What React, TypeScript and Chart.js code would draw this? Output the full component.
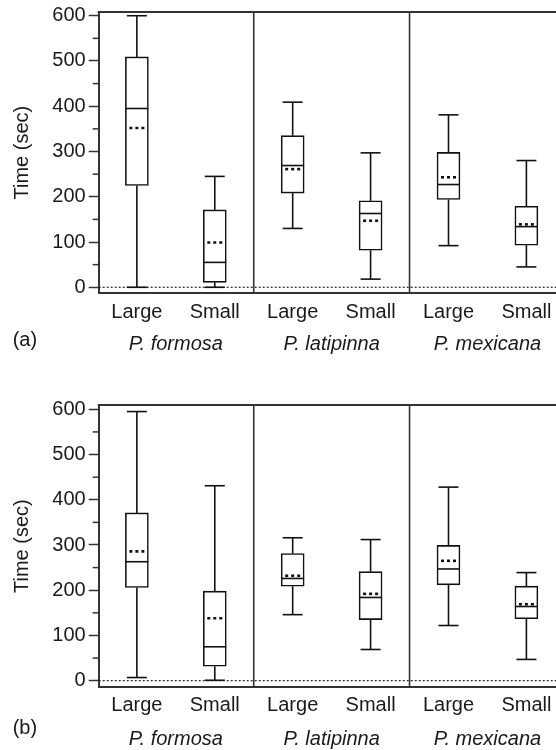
import React, { useEffect, useRef } from 'react';
import { Chart, registerables } from 'chart.js';
Chart.register(...registerables);

const FONT = '"Liberation Sans", Arial, Helvetica, sans-serif';
Chart.defaults.font.family = FONT;

const sizeLabels = ['Large', 'Small', 'Large', 'Small', 'Large', 'Small'];
const speciesLabels = ['P. formosa', 'P. latipinna', 'P. mexicana'];
const yTicks = [0, 100, 200, 300, 400, 500, 600];
const yMinorTicks = [50, 150, 250, 350, 450, 550];
const groupBounds = [1.5, 3.5];

// Panel (a)
const aMin = [0, 0, 130, 18, 92, 45];
const aQ1 = [225, 11, 208, 82, 194, 93];
const aMedian = [395, 55, 269, 163, 227, 134];
const aQ3 = [509, 171, 335, 191, 298, 179];
const aMax = [600, 245, 409, 297, 381, 280];
const aMean = [352, 99, 261, 147, 243, 139];

// Panel (b)
const bMin = [7, 1, 146, 69, 122, 47];
const bQ1 = [206, 32, 209, 135, 212, 137];
const bMedian = [263, 75, 226, 184, 247, 164];
const bQ3 = [371, 198, 281, 241, 299, 209];
const bMax = [595, 431, 316, 312, 428, 239];
const bMean = [286, 138, 232, 192, 265, 169];

type Cfg = {
  tag: string;
  min: number[]; q1: number[]; median: number[]; q3: number[]; max: number[]; mean: number[];
  top: number; xAxisHeight: number; yMin: number; yMax: number;
  labelPad: number; speciesDy: number; tagDy: number;
};

const panelA: Cfg = {
  tag: '(a)', min: aMin, q1: aQ1, median: aMedian, q3: aQ3, max: aMax, mean: aMean,
  top: 12, xAxisHeight: 81.7, yMin: -13.3, yMax: 608.2, labelPad: 7, speciesDy: 50.7, tagDy: 46.7,
};
const panelB: Cfg = {
  tag: '(b)', min: bMin, q1: bQ1, median: bMedian, q3: bQ3, max: bMax, mean: bMean,
  top: 30, xAxisHeight: 62.7, yMin: -14.6, yMax: 609.5, labelPad: 6.5, speciesDy: 52, tagDy: 41,
};

const FRAME = '#333';
const INK = '#111';
const TEXT = '#1a1a1a';

function makePlugin(cfg: Cfg) {
  const line = (ctx: CanvasRenderingContext2D, x1: number, y1: number, x2: number, y2: number) => {
    ctx.beginPath();
    ctx.moveTo(x1, y1);
    ctx.lineTo(x2, y2);
    ctx.stroke();
  };
  return {
    id: 'boxExtras',
    beforeDatasetsDraw(chart: any) {
      const { ctx, chartArea: a } = chart;
      const xs = chart.scales.x, ys = chart.scales.y;
      ctx.save();
      // zero reference line
      ctx.strokeStyle = '#222';
      ctx.lineWidth = 1.2;
      ctx.setLineDash([2, 2]);
      const y0 = ys.getPixelForValue(0);
      line(ctx, a.left, y0, a.right, y0);
      ctx.setLineDash([]);
      // group separators
      ctx.strokeStyle = FRAME;
      ctx.lineWidth = 1.6;
      groupBounds.forEach((v) => {
        const px = xs.getPixelForValue(v);
        line(ctx, px, a.top, px, a.bottom);
      });
      // minor ticks
      ctx.lineWidth = 1.5;
      yMinorTicks.forEach((v) => {
        const py = ys.getPixelForValue(v);
        line(ctx, a.left - 6, py, a.left, py);
      });
      // whiskers
      ctx.strokeStyle = INK;
      ctx.lineWidth = 1.6;
      cfg.q1.forEach((_, i) => {
        const cx = xs.getPixelForValue(i);
        const yMaxP = ys.getPixelForValue(cfg.max[i]);
        const yMinP = ys.getPixelForValue(cfg.min[i]);
        line(ctx, cx, ys.getPixelForValue(cfg.q3[i]), cx, yMaxP);
        line(ctx, cx, ys.getPixelForValue(cfg.q1[i]), cx, yMinP);
        line(ctx, cx - 10, yMaxP, cx + 10, yMaxP);
        line(ctx, cx - 10, yMinP, cx + 10, yMinP);
      });
      ctx.restore();
    },
    afterDatasetsDraw(chart: any) {
      const { ctx } = chart;
      const xs = chart.scales.x, ys = chart.scales.y;
      ctx.save();
      ctx.strokeStyle = INK;
      cfg.q1.forEach((_, i) => {
        const cx = xs.getPixelForValue(i);
        ctx.lineWidth = 1.6;
        ctx.setLineDash([]);
        const ym = ys.getPixelForValue(cfg.median[i]);
        line(ctx, cx - 11.5, ym, cx + 11.5, ym);
        ctx.lineWidth = 2.6;
        ctx.setLineDash([3, 3]);
        const yMean = ys.getPixelForValue(cfg.mean[i]);
        line(ctx, cx - 7.5, yMean, cx + 7.5, yMean);
      });
      ctx.restore();
    },
    afterDraw(chart: any) {
      const { ctx, chartArea: a } = chart;
      const xs = chart.scales.x;
      ctx.save();
      ctx.strokeStyle = FRAME;
      ctx.lineWidth = 2;
      line(ctx, a.left - 1, a.top, a.right, a.top);
      ctx.fillStyle = TEXT;
      ctx.textBaseline = 'middle';
      ctx.textAlign = 'center';
      ctx.font = `italic 20px ${FONT}`;
      speciesLabels.forEach((s, k) => {
        ctx.fillText(s, xs.getPixelForValue(2 * k + 0.5), a.bottom + cfg.speciesDy);
      });
      ctx.font = `20px ${FONT}`;
      ctx.textAlign = 'left';
      ctx.fillText(cfg.tag, 12.7, a.bottom + cfg.tagDy);
      ctx.restore();
    },
  };
}

function Panel({ cfg }: { cfg: Cfg }) {
  const ref = useRef<HTMLCanvasElement>(null);
  useEffect(() => {
    const chart = new Chart(ref.current as HTMLCanvasElement, {
      type: 'bar',
      data: {
        datasets: [
          {
            data: cfg.q1.map((q, i) => ({ x: i, y: [q, cfg.q3[i]] })) as any,
            backgroundColor: '#ffffff',
            borderColor: INK,
            borderWidth: 1.6,
            borderSkipped: false,
            barThickness: 23,
          } as any,
        ],
      },
      options: {
        responsive: false,
        animation: false,
        events: [],
        layout: { padding: { left: 6, top: cfg.top, right: 0, bottom: 0 } },
        plugins: { legend: { display: false }, tooltip: { enabled: false } },
        scales: {
          x: {
            type: 'linear',
            offset: false,
            min: -0.49,
            max: 5.38,
            position: 'bottom',
            afterBuildTicks: (s: any) => {
              s.ticks = sizeLabels.map((_, i) => ({ value: i }));
            },
            afterFit: (s: any) => {
              s.height = cfg.xAxisHeight;
              s.paddingLeft = 0; s.paddingRight = 0; s.paddingTop = 0; s.paddingBottom = 0;
            },
            grid: { display: false, drawTicks: false },
            border: { display: true, color: FRAME, width: 2 },
            ticks: {
              autoSkip: false,
              maxRotation: 0,
              minRotation: 0,
              padding: cfg.labelPad,
              font: { size: 20 },
              color: TEXT,
              callback: (_v: any, i: number) => sizeLabels[i],
            },
          } as any,
          y: {
            type: 'linear',
            min: cfg.yMin,
            max: cfg.yMax,
            afterBuildTicks: (s: any) => {
              s.ticks = yTicks.map((v) => ({ value: v }));
            },
            afterFit: (s: any) => {
              s.width = 92.7;
              s.paddingLeft = 0; s.paddingRight = 0; s.paddingTop = 0; s.paddingBottom = 0;
            },
            grid: { drawOnChartArea: false, drawTicks: true, tickLength: 10, tickColor: FRAME, tickWidth: 1.5 },
            border: { display: true, color: FRAME, width: 2 },
            ticks: { padding: 3, font: { size: 20 }, color: TEXT, callback: (v: any) => String(v) },
            title: { display: true, text: 'Time (sec)', font: { size: 20 }, color: TEXT, padding: { top: 4, bottom: 4 } },
          } as any,
        },
      },
      plugins: [makePlugin(cfg) as any],
    });
    return () => chart.destroy();
  }, [cfg]);
  return <canvas ref={ref} width={556} height={375} style={{ display: 'block', width: 556, height: 375 }} />;
}

export default function App() {
  useEffect(() => {
    document.body.style.margin = '0';
  }, []);
  return (
    <div style={{ width: 556, height: 750, background: '#fff', overflow: 'hidden' }}>
      <Panel cfg={panelA} />
      <Panel cfg={panelB} />
    </div>
  );
}
